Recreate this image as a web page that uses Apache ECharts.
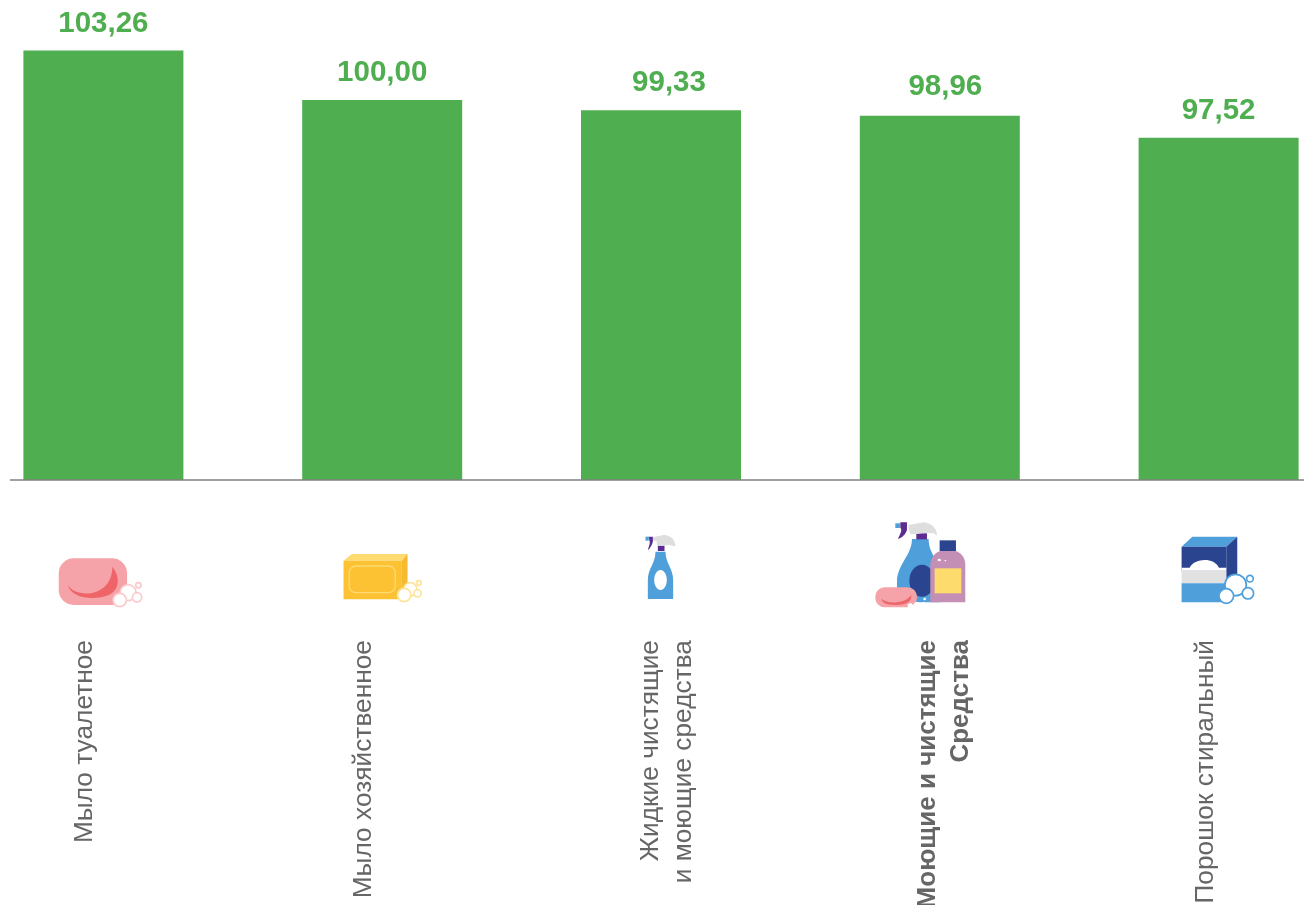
<!DOCTYPE html>
<html>
<head>
<meta charset="utf-8">
<script src="https://cdn.jsdelivr.net/npm/echarts@6/dist/echarts.min.js"></script>
<style>
  html, body { margin: 0; padding: 0; background: #fff; }
  #main { width: 1304px; height: 905px; }
</style>
</head>
<body>
<div id="main"></div>
<script>
var categories = [
  'Мыло туалетное',
  'Мыло хозяйственное',
  'Жидкие чистящие\nи моющие средства',
  'Моющие и чистящие\nСредства',
  'Порошок стиральный'
];
var values = [103.26, 100.00, 99.33, 98.96, 97.52];
var boldCategory = 3; // итоговая группа

// подписи в исходнике стоят не по центру столбца
var nameShift = [-19, -18, 6, 5, -13];
var valueShift = [[0, 0], [0, 0], [8, 0], [5.5, -2], [0, 0]];

var GREEN = '#4fae50', BLUE = '#4f9fdb', NAVY = '#2b4490', PURPLE = '#5c2d91';
var GREY = '#dedede', ROSE = '#f5a3a8', RED = '#ee6468';

function rect(x, y, w, h, fill, r, stroke) {
  return { type: 'rect', shape: { x: x, y: y, width: w, height: h, r: r || 0 },
    style: { fill: fill, stroke: stroke || null, lineWidth: stroke ? 4 : 0 } };
}
function path(d, fill) {
  return { type: 'path', shape: { pathData: d }, style: { fill: fill } };
}
function oval(cx, cy, rx, ry, fill) {
  return { type: 'ellipse', shape: { cx: cx, cy: cy, rx: rx, ry: ry }, style: { fill: fill } };
}
function bubble(cx, cy, r, stroke) {
  return { type: 'circle', shape: { cx: cx, cy: cy, r: r },
    style: { fill: '#fff', stroke: stroke, lineWidth: 5 } };
}

// иконки нарисованы в координатах x3, dx/dy - смещение от центра столбца и базовой линии
var icons = [
  { dx: -63, dy: 60, parts: [
    rect(55, 55, 205, 140, ROSE, 45),
    path('M82 135 C105 175 215 175 216 80 C240 110 238 150 205 165 C170 180 95 180 82 135 Z', RED),
    bubble(263, 158, 24, '#fbc9cc'), bubble(238, 180, 20, '#fbc9cc'),
    bubble(290, 172, 14, '#fbc9cc'), bubble(294, 136, 8, '#fbc9cc')
  ] },
  { dx: -52, dy: 60, parts: [
    path('M40 62 L65 42 L232 42 L215 62 Z', '#fedb70'),
    path('M215 62 L232 42 L232 155 L215 178 Z', '#f7b92e'),
    rect(40, 62, 175, 116, '#fdc134'),
    rect(57, 78, 138, 80, null, 20, '#fedb70'),
    bubble(240, 148, 20, '#fee49b'), bubble(222, 165, 20, '#fee49b'),
    bubble(262, 160, 11, '#fee49b'), bubble(266, 129, 7, '#fee49b')
  ] },
  { dx: -40.5, dy: 45, parts: [
    path('M82 222 L82 165 C82 130 105 115 105 80 L135 80 C135 115 158 130 158 165 L158 222 Z', BLUE),
    oval(120, 165, 19, 30, '#fff'),
    rect(112, 62, 20, 16, PURPLE),
    path('M95 37 L130 30 C150 30 165 45 165 64 L155 62 C148 58 140 60 132 62 L110 62 L108 48 L95 47 Z', GREY),
    rect(75, 35, 10, 12, BLUE),
    path('M85 35 L97 35 L97 50 C95 60 88 70 82 76 C84 65 90 55 87 48 Z', PURPLE)
  ] },
  { dx: -74.5, dy: 35, parts: [
    path('M95 262 L95 200 C95 150 140 120 140 72 L190 72 C190 120 225 130 225 200 L225 262 Z', BLUE),
    oval(170, 197, 38, 48, NAVY),
    rect(153, 55, 32, 18, PURPLE),
    path('M130 30 L175 22 C200 25 215 40 215 62 L205 55 C190 52 165 55 155 57 L135 57 L130 42 Z', GREY),
    rect(90, 25, 14, 14, BLUE),
    path('M105 22 L125 22 L125 45 C120 60 110 68 98 72 C105 55 112 45 105 38 Z', PURPLE),
    path('M195 262 L195 150 C195 125 215 110 225 108 L272 108 C290 115 300 130 300 150 L300 262 Z', '#c48fb5'),
    rect(223, 76, 49, 32, NAVY),
    rect(208, 160, 80, 75, '#fddb6d'),
    oval(222, 135, 5, 4, '#fff'), oval(240, 137, 3, 2, '#fff'),
    rect(30, 217, 125, 60, ROSE, 28),
    path('M48 250 C60 268 120 268 138 240 C140 262 120 270 90 270 C65 270 50 265 48 250 Z', RED),
    oval(155, 270, 11, 9, '#fff'), oval(135, 272, 8, 7, '#fff'),
    oval(175, 267, 6, 6, '#fff'), oval(178, 252, 4, 4, '#fff')
  ] },
  { dx: -53, dy: 45, parts: [
    path('M48 65 L80 35 L215 35 L182 65 Z', BLUE),
    path('M182 65 L215 35 L215 170 L182 200 Z', NAVY),
    rect(48, 65, 134, 72, NAVY),
    rect(48, 137, 134, 38, '#e1e1e1'),
    rect(48, 175, 134, 57, BLUE),
    path('M48 137 L48 128 L72 128 C85 100 145 95 160 128 L182 128 L182 137 Z', '#fff'),
    bubble(210, 180, 32, BLUE), bubble(182, 213, 22, BLUE),
    bubble(247, 205, 17, BLUE), bubble(253, 161, 10, BLUE)
  ] }
];

var chart = echarts.init(document.getElementById('main'), null, { renderer: 'canvas' });

// сдвиг делаем пустой строкой нужной высоты: блок центрируется на столбце
var labelRich = { bold: { fontWeight: 'bold', fontSize: 26, lineHeight: 33, color: '#666' } };
nameShift.forEach(function (s, i) {
  labelRich['gap' + i] = { fontSize: 1, lineHeight: Math.abs(s) * 2 };
});

function axisLabelText(value, index) {
  var text = value;
  if (index === boldCategory) {
    text = value.split('\n').map(function (s) { return '{bold|' + s + '}'; }).join('\n');
  }
  var gap = '{gap' + index + '| }';
  return nameShift[index] < 0 ? text + '\n' + gap : gap + '\n' + text;
}

chart.setOption({
  animation: false,
  backgroundColor: '#fff',
  textStyle: { fontFamily: '"Liberation Sans", Arial, sans-serif' },
  grid: { left: -36, top: 24, width: 1394, height: 456, outerBoundsMode: 'none' },
  xAxis: {
    type: 'category',
    data: categories,
    axisLine: { show: false },
    axisTick: { show: false },
    axisLabel: {
      interval: 0, rotate: 90, margin: 160, hideOverlap: false,
      color: '#666', fontSize: 26.3, lineHeight: 33,
      formatter: axisLabelText,
      rich: labelRich
    }
  },
  yAxis: { type: 'value', min: 75, max: 105, show: false },
  series: [{
    type: 'bar',
    data: values.map(function (v, i) {
      return { value: v, label: { offset: valueShift[i] } };
    }),
    barWidth: 160,
    itemStyle: { color: GREEN },
    label: {
      show: true, position: 'top', distance: 12,
      color: GREEN, fontSize: 29.5, fontWeight: 'bold',
      formatter: function (p) { return p.value.toFixed(2).replace('.', ','); }
    }
  }, {
    type: 'custom',
    silent: true,
    clip: false,
    data: values.map(function (v, i) { return [i, 75]; }),
    encode: { x: 0, y: 1 },
    renderItem: function (params, api) {
      var p = api.coord([api.value(0), api.value(1)]);
      var icon = icons[params.dataIndex];
      return { type: 'group', x: p[0] + icon.dx, y: p[1] + icon.dy, scaleX: 1 / 3, scaleY: 1 / 3,
        children: icon.parts };
    }
  }]
});

// линия оси короче сетки, поэтому отдельным элементом
var baseY = Math.round(chart.convertToPixel({ yAxisIndex: 0 }, 75));
chart.setOption({
  graphic: [{ type: 'line', z: 10, shape: { x1: 10, y1: baseY, x2: 1304, y2: baseY },
    style: { stroke: '#808080', lineWidth: 1.5 } }]
});
</script>
</body>
</html>
